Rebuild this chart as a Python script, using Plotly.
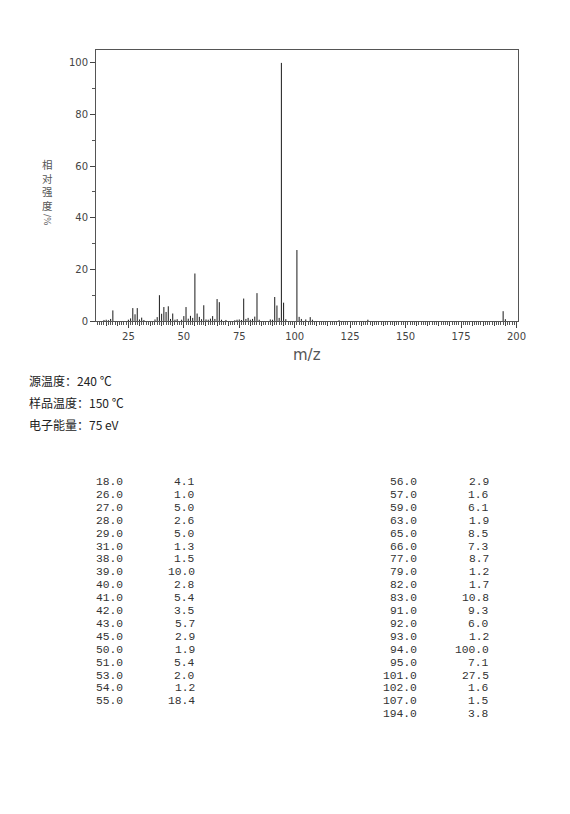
import plotly.graph_objects as go

# ---- data ----
mz = [18, 26, 27, 28, 29, 31, 38, 39, 40, 41, 42, 43, 45, 50, 51, 53, 54, 55,
      56, 57, 59, 63, 65, 66, 77, 79, 82, 83, 91, 92, 93, 94, 95, 101, 102, 107, 194]
intensity = [4.1, 1.0, 5.0, 2.6, 5.0, 1.3, 1.5, 10.0, 2.8, 5.4, 3.5, 5.7, 2.9, 1.9, 5.4, 2.0, 1.2, 18.4,
             2.9, 1.6, 6.1, 1.9, 8.5, 7.3, 8.7, 1.2, 1.7, 10.8, 9.3, 6.0, 1.2, 100.0, 7.1, 27.5, 1.6, 1.5, 3.8]
# small peaks (<1 %)
minor_mz = [14, 15, 16, 17, 25, 30, 32, 37, 44, 46, 47, 49, 52, 58, 60, 61, 62, 64, 67,
            69, 73, 74, 75, 76, 78, 80, 81, 84, 89, 90, 96, 103, 105, 108, 120, 133, 195]
minor_int = [0.4, 0.5, 0.3, 0.8, 0.5, 0.6, 0.4, 0.6, 0.8, 0.5, 0.7, 0.5, 0.9, 0.7, 0.6, 0.5, 0.9, 0.8, 0.5,
             0.4, 0.3, 0.5, 0.6, 0.4, 0.8, 0.5, 0.8, 0.5, 0.6, 0.5, 0.7, 0.8, 0.6, 0.5, 0.3, 0.5, 0.7]

info_lines = ["源温度：240 ℃", "样品温度：150 ℃", "电子能量：75 eV"]
y_label_chars = ["相", "对", "强", "度"]
x_ticks = [25, 50, 75, 100, 125, 150, 175, 200]

all_mz = mz + minor_mz
all_int = intensity + minor_int

xs, ys = [], []
for m, v in zip(all_mz, all_int):
    xs += [m, m, None]
    ys += [0, v, None]

fig = go.Figure()
fig.add_trace(go.Scatter(x=xs, y=ys, mode="lines",
                         line=dict(color="#1a1a1a", width=1),
                         hoverinfo="skip", showlegend=False))
# invisible trace for the secondary tick axis
fig.add_trace(go.Scatter(x=[x_ticks[0]], y=[0], xaxis="x2", mode="markers",
                         marker=dict(opacity=0), hoverinfo="skip", showlegend=False))

W, H = 570, 814
L, R, T, B = 96, 52, 50, 493
pw, ph = W - L - R, H - T - B


def px(x):
    return (x - L) / pw


def py(y):
    return (H - B - y) / ph


tick_font = dict(family="DejaVu Sans", size=10, color="#444")

fig.update_layout(
    width=W, height=H, autosize=False,
    margin=dict(l=L, r=R, t=T, b=B, pad=0),
    paper_bgcolor="white", plot_bgcolor="white",
    xaxis=dict(range=[10.4, 200.7], tickmode="array", tickvals=x_ticks,
               ticks="outside", ticklen=6, tickcolor="#444", tickwidth=1,
               showline=True, linecolor="#555", linewidth=1, mirror=True,
               showgrid=False, zeroline=False, tickfont=tick_font,
               minor=dict(dtick=1, tick0=0, ticks="outside", ticklen=3,
                          tickcolor="#555", tickwidth=1, showgrid=False)),
    xaxis2=dict(overlaying="x", matches="x", anchor="y", side="bottom",
                tickmode="linear", tick0=0, dtick=5, ticks="outside", ticklen=4,
                tickcolor="#444", showticklabels=False, showgrid=False,
                showline=False, zeroline=False),
    yaxis=dict(range=[0, 105], tickmode="linear", tick0=0, dtick=20,
               ticks="outside", ticklen=5, tickcolor="#444", tickwidth=1,
               showline=True, linecolor="#555", linewidth=1, mirror=True,
               showgrid=False, zeroline=False, tickfont=tick_font,
               minor=dict(dtick=10, ticks="outside", ticklen=3,
                          tickcolor="#555", showgrid=False)),
)

ann = []
# axis titles
ann.append(dict(text="m/z", x=px(307), y=py(355), xref="paper", yref="paper",
                showarrow=False, font=dict(family="DejaVu Sans", size=15, color="#555"),
                xanchor="center", yanchor="middle"))
ann.append(dict(text="<br>".join(y_label_chars), x=px(47), y=py(156), xref="paper", yref="paper",
                showarrow=False, borderpad=0,
                font=dict(family="Noto Sans CJK SC", size=10.5, color="#555"),
                xanchor="center", yanchor="top"))
ann.append(dict(text="/%", x=px(47), y=py(213), xref="paper", yref="paper", textangle=90,
                showarrow=False, borderpad=0,
                font=dict(family="DejaVu Sans", size=9, color="#666"),
                xanchor="center", yanchor="top"))
# info lines
for i, t in enumerate(info_lines):
    ann.append(dict(text=t, x=px(27), y=py(380 + 22 * i), xref="paper", yref="paper",
                    showarrow=False, font=dict(family="Noto Sans CJK SC", size=12, color="#222"),
                    xanchor="left", yanchor="middle"))

# peak table
mono = dict(family="Liberation Mono", size=11.3, color="#333")
n_left = 18
row_h = 12.9
for i, (m, v) in enumerate(zip(mz, intensity)):
    if i < n_left:
        r, xm, xv = i, 124, 196
    else:
        r, xm, xv = i - n_left, 418, 490
    yy = py(482 + r * row_h)
    ann.append(dict(text=f"{m:.1f}", x=px(xm), y=yy, xref="paper", yref="paper",
                    showarrow=False, font=mono, xanchor="right", yanchor="middle",
                    height=12, borderpad=0))
    ann.append(dict(text=f"{v:.1f}", x=px(xv), y=yy, xref="paper", yref="paper",
                    showarrow=False, font=mono, xanchor="right", yanchor="middle",
                    height=12, borderpad=0))

fig.update_layout(annotations=ann)
fig.write_html("out.html", config={"displayModeBar": False},
               post_script="document.body.style.margin='0';document.body.style.padding='0';")
